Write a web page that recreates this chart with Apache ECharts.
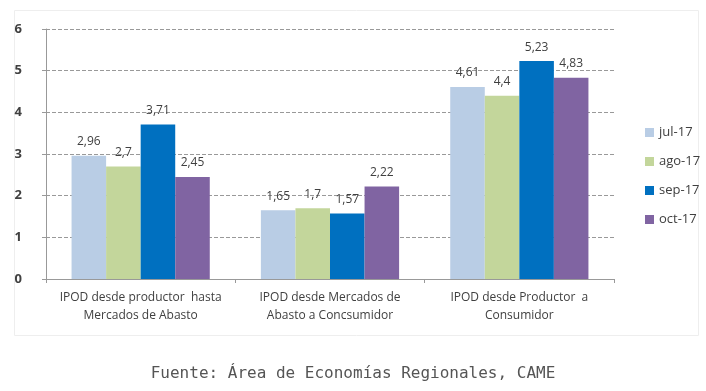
<!DOCTYPE html>
<html><head><meta charset="utf-8">
<script src="https://cdn.jsdelivr.net/npm/echarts@6/dist/echarts.min.js"></script>
<style>html,body{margin:0;padding:0;background:#fff}#c{width:706px;height:391px}</style>
</head><body><div id="c"></div>
<script>
const categories = ["IPOD desde productor  hasta\nMercados de Abasto", "IPOD desde Mercados de\nAbasto a Concsumidor", "IPOD desde Productor  a\nConsumidor"];
const seriesNames = ["jul-17", "ago-17", "sep-17", "oct-17"];
const jul17 = [2.96, 1.65, 4.61];
const ago17 = [2.7, 1.7, 4.4];
const sep17 = [3.71, 1.57, 5.23];
const oct17 = [2.45, 2.22, 4.83];
const colors = ["#b9cde5", "#c3d69b", "#0070c0", "#8064a2"];
const values = [jul17, ago17, sep17, oct17];

const chart = echarts.init(document.getElementById('c'));
chart.setOption({
  animation: false,
  grid: {left: 46, top: 29, right: 92, bottom: 112, containLabel: false},
  legend: {
    orient: 'vertical', left: 640, top: 121, itemGap: 16,
    itemWidth: 9, itemHeight: 9, icon: 'rect',
    textStyle: {color: '#404040', fontSize: 13, fontFamily: 'Open Sans'},
    data: seriesNames
  },
  xAxis: {
    type: 'category', data: categories,
    axisLine: {lineStyle: {color: '#999'}},
    axisTick: {show: true, lineStyle: {color: '#999'}, length: 4},
    axisLabel: {color: '#404040', fontSize: 12, lineHeight: 18, margin: 10, interval: 0, fontFamily: 'Open Sans'}
  },
  yAxis: {
    type: 'value', min: 0, max: 6, interval: 1,
    axisLine: {show: true, lineStyle: {color: '#999'}},
    axisTick: {show: true, length: 4, inside: false, lineStyle: {color: '#999'}},
    axisLabel: {color: '#404040', fontSize: 13, margin: 24, fontFamily: 'Open Sans', fontWeight: 'bold'},
    splitLine: {lineStyle: {color: '#999', type: [4, 2]}}
  },
  graphic: [
    {type: 'rect', shape: {x: 14.5, y: 10.5, width: 684, height: 325}, style: {fill: 'none', stroke: '#eee', lineWidth: 1}, z: -1},
    {type: 'text', left: 'center', top: 366, style: {text: 'Fuente: Área de Economías Regionales, CAME', fill: '#555', font: '16px "DejaVu Sans Mono"'}}
  ],
  series: seriesNames.map((n, i) => ({
    name: n, type: 'bar', data: values[i],
    barGap: '0%', barCategoryGap: '27%',
    itemStyle: {color: colors[i]},
    label: {show: true, position: 'top', distance: 8, color: '#404040', fontSize: 12, fontFamily: 'Open Sans',
      formatter: p => String(p.value).replace('.', ',')}
  }))
});
</script></body></html>
